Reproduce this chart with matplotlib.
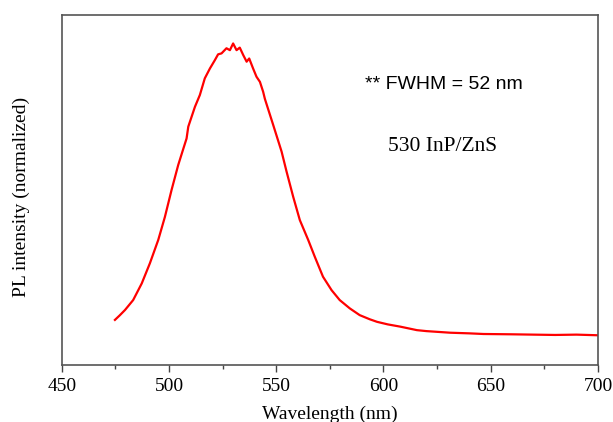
import matplotlib
matplotlib.use("Agg")
import matplotlib.pyplot as plt
from matplotlib.ticker import MultipleLocator

wavelength = [474.8, 477.0, 479.5, 483.3, 487.3, 491.1, 495.0, 498.1, 501.2, 504.3,
              506.5, 508.2, 509.0, 512.1, 514.4, 516.7, 519.1, 521.4, 522.9, 524.5,
              526.8, 528.4, 529.9, 531.5, 533.0, 534.6, 536.2, 537.4, 539.2, 540.8,
              542.4, 543.9, 544.7, 548.6, 552.5, 554.8, 557.9, 561.0, 564.9, 568.0,
              571.8, 575.8, 579.6, 584.3, 588.9, 593.6, 597.0, 602.0, 607.8, 615.6,
              620.0, 631.1, 640.0, 646.6, 660.0, 669.9, 680.0, 690.0, 700.0]
intensity = [0.141, 0.155, 0.172, 0.203, 0.255, 0.318, 0.391, 0.463, 0.547, 0.625,
             0.672, 0.708, 0.745, 0.807, 0.844, 0.896, 0.927, 0.953, 0.971, 0.974,
             0.990, 0.984, 1.005, 0.984, 0.992, 0.969, 0.948, 0.958, 0.927, 0.901,
             0.885, 0.854, 0.832, 0.750, 0.667, 0.605, 0.526, 0.453, 0.391, 0.338,
             0.276, 0.234, 0.203, 0.177, 0.156, 0.143, 0.135, 0.127, 0.120, 0.109,
             0.106, 0.101, 0.099, 0.097, 0.096, 0.095, 0.094, 0.095, 0.093]

xticks = [450, 500, 550, 600, 650, 700]

fig = plt.figure(figsize=(6.13, 4.22), dpi=100)
ax = fig.add_axes([0.1007, 0.135, 0.8748, 0.8295])

ax.plot(wavelength, intensity, color="#ff0000", linewidth=1.6)

ax.set_xlim(450, 700)
ax.set_ylim(0, 1.094)
ax.set_xticks(xticks)
ax.xaxis.set_minor_locator(MultipleLocator(25))
ax.set_yticks([])

serif = ["Liberation Serif", "DejaVu Serif"]
ax.set_xticklabels([str(t) for t in xticks], fontfamily=serif, fontsize=14)
ax.tick_params(axis="x", which="major", direction="out", length=5, width=1.0, color="#444444", pad=4)
ax.tick_params(axis="x", which="minor", direction="out", length=3, width=1.0, color="#444444")

for s in ax.spines.values():
    s.set_color("#555555")
    s.set_linewidth(1.2)

ax.set_xlabel("Wavelength (nm)", fontfamily=serif, fontsize=14, labelpad=8)
ax.set_ylabel("PL intensity (normalized)", fontfamily=serif, fontsize=14)
ax.yaxis.set_label_coords(-0.060, 0.48)

ax.text(0.712, 0.80, "** FWHM = 52 nm", transform=ax.transAxes,
        fontfamily=["Liberation Sans", "DejaVu Sans"], fontsize=14,
        ha="center", va="center")
ax.text(0.71, 0.625, "530 InP/ZnS", transform=ax.transAxes,
        fontfamily=serif, fontsize=15.5, ha="center", va="center")

fig.savefig("out.png", dpi=100)
